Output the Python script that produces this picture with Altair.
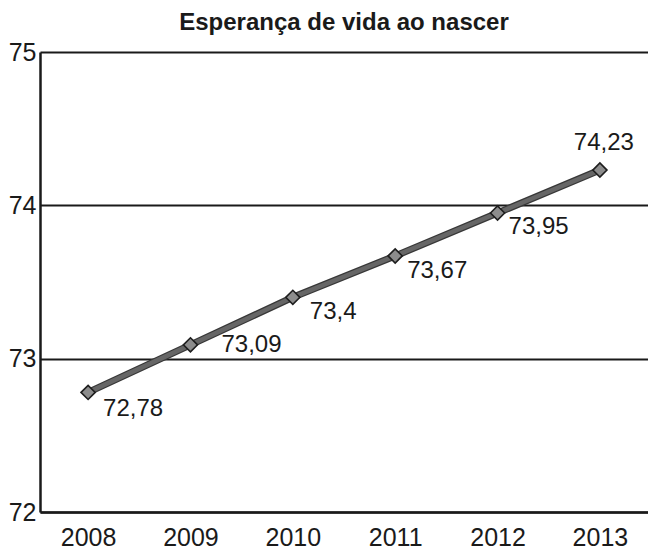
import altair as alt
import pandas as pd

years = ["2008", "2009", "2010", "2011", "2012", "2013"]
values = [72.78, 73.09, 73.4, 73.67, 73.95, 74.23]
labels = ["72,78", "73,09", "73,4", "73,67", "73,95", "74,23"]

df = pd.DataFrame({"ano": years, "valor": values, "rotulo": labels})

FONT = "Liberation Sans"

x = alt.X("ano:O", scale=alt.Scale(type="point", padding=0.47),
          axis=alt.Axis(title=None, labelAngle=0, ticks=False, grid=False,
                        domainColor="#1a1a1a", domainWidth=2.5,
                        labelFont=FONT, labelFontSize=25, labelColor="#1a1a1a",
                        labelPadding=13))
y = alt.Y("valor:Q", scale=alt.Scale(domain=[72, 75], nice=False, zero=False),
          axis=alt.Axis(title=None, values=[72, 73, 74, 75], ticks=False,
                        grid=True, gridColor="#1a1a1a", gridWidth=2, gridOpacity=1,
                        domainColor="#1a1a1a", domainWidth=2.5,
                        labelFont=FONT, labelFontSize=25, labelColor="#1a1a1a",
                        labelPadding=4))

base = alt.Chart(df)

line_outer = base.mark_line(color="#383838", strokeWidth=7).encode(x=x, y=y)
line_inner = base.mark_line(color="#666666", strokeWidth=4.5).encode(x=x, y=y)
pts = base.mark_point(shape="diamond", filled=True, size=200, fill="#8c8c8c",
                      stroke="#1e1e1e", strokeWidth=1.6, opacity=1).encode(x=x, y=y)

offsets = {
    "2008": (15, 17, "left"),
    "2009": (31, 0, "left"),
    "2010": (17, 15, "left"),
    "2011": (12, 15, "left"),
    "2012": (11, 14, "left"),
    "2013": (4, -27, "center"),
}

text_layers = []
for yr, (dx, dy, al) in offsets.items():
    text_layers.append(
        base.transform_filter(alt.datum.ano == yr)
        .mark_text(font=FONT, fontSize=24, color="#1a1a1a", align=al,
                   baseline="middle", dx=dx, dy=dy)
        .encode(x=x, y=y, text="rotulo:N")
    )

chart = alt.layer(line_outer, line_inner, pts, *text_layers).properties(
    width=608, height=460,
    autosize=alt.AutoSizeParams(type="none"),
    padding={"top": 44, "left": 32, "right": 0, "bottom": 37},
    title=alt.TitleParams("Esperança de vida ao nascer", font=FONT, fontSize=24,
                          fontWeight="bold", color="#1a1a1a", offset=5,
                          anchor="middle"),
).configure(background="white").configure_view(stroke=None)

chart.save("out.html", embed_options={"renderer": "svg", "actions": False})
